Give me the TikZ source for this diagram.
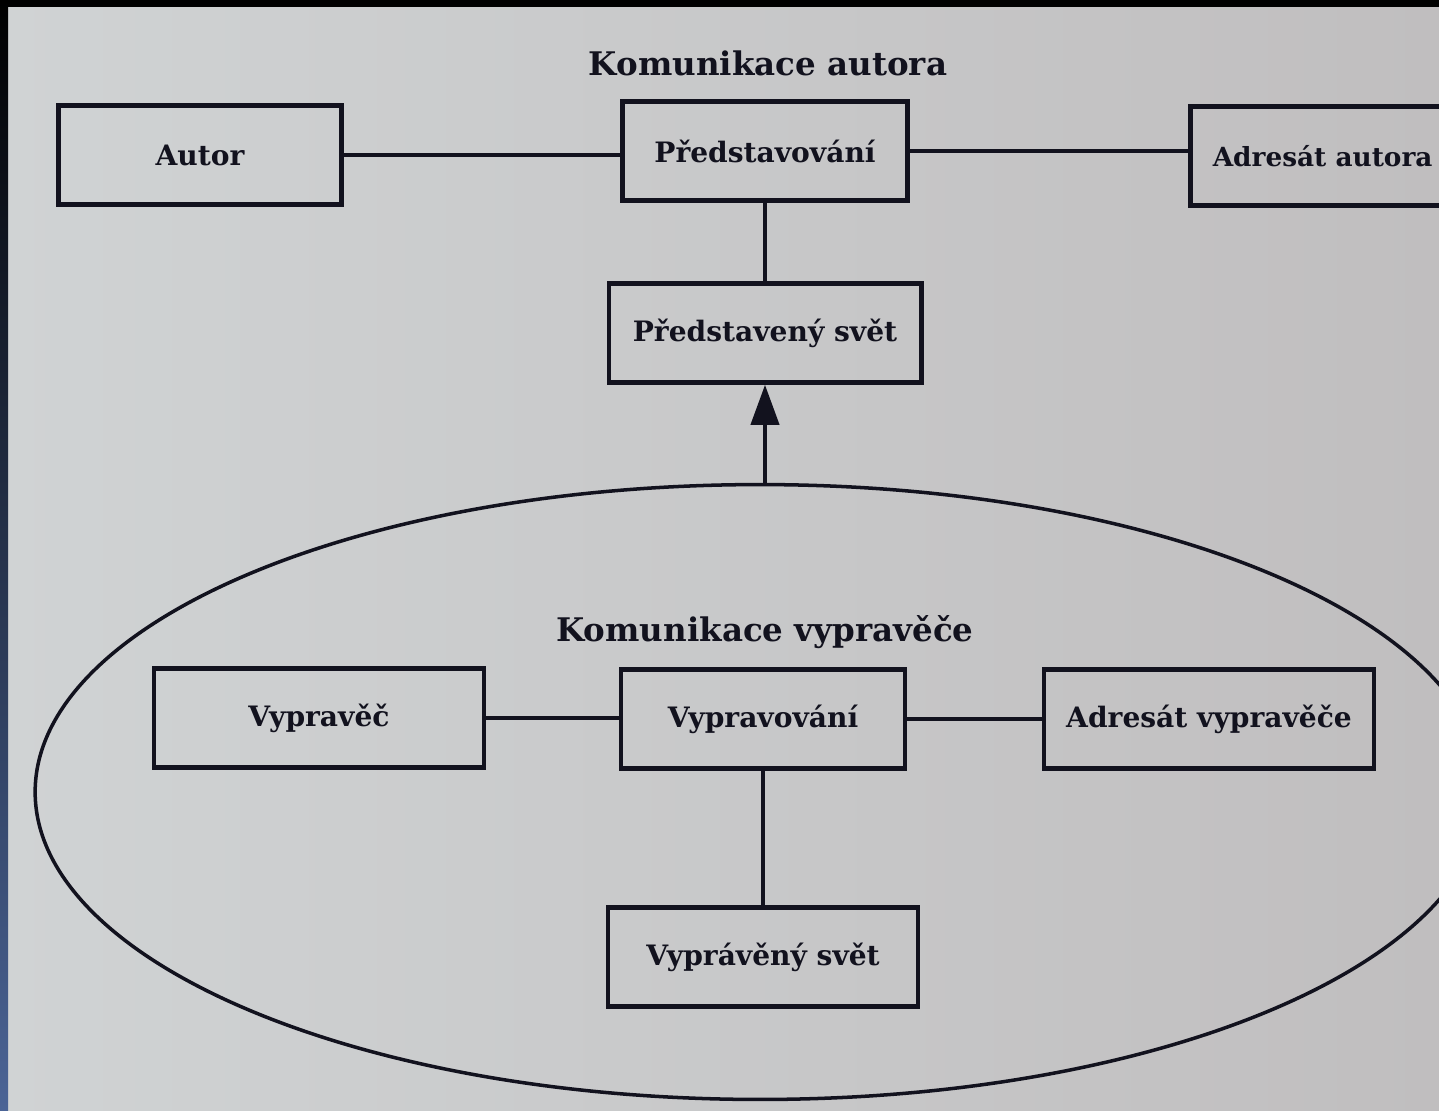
\documentclass[tikz,border=0pt]{standalone}
\usepackage{fontspec}
\setmainfont{DejaVu Serif}
\usetikzlibrary{arrows.meta,shapes.geometric}
\definecolor{paperA}{RGB}{208,211,212}
\definecolor{paperB}{RGB}{192,190,191}
\definecolor{ink}{RGB}{18,18,30}
\begin{document}
\begin{tikzpicture}[x=0.02cm,y=-0.02cm,
  box/.style = {rectangle,draw=ink,line width=2.6pt,inner sep=0pt,minimum height=1.98cm,
                text=ink,font=\bfseries\fontsize{16}{18}\selectfont},
  title/.style = {text=ink,font=\bfseries\fontsize{18.5}{21}\selectfont},
  link/.style = {draw=ink,line width=2.3pt}]
\useasboundingbox (0,0) rectangle (1439,1110);
% paper and photo edges
\fill[left color=paperA,right color=paperB] (0,0) rectangle (1439,1110);
\fill[black] (0,0) rectangle (1439,7);
\fill[top color=black,bottom color={rgb,255:red,75;green,100;blue,150}] (0,0) rectangle (8,1110);
\begin{scope}
\clip (8,7) rectangle (1439,1110);
% author level
\node[title] (tA) at (768,63) {Komunikace autora};
\node[box,minimum width=5.65cm] (autor) at (200,155) {Autor};
\node[box,minimum width=5.7cm] (predst) at (765,151) {Představování};
\node[box,anchor=west] (adrA) at (1188,156)
  {\kern0.45cm{\fontsize{15}{18}\selectfont Adresát autora}\kern1.3cm};
\node[box,minimum width=6.25cm] (pworld) at (765,333) {Představený svět};
% narrator level
\node[ellipse,draw=ink,line width=2pt,minimum width=29cm,minimum height=12.3cm,inner sep=0pt] (vkom) at (760,792) {};
\node[title] (tV) at (765,632) {Komunikace vypravěče};
\node[box,minimum width=6.6cm] (vypravec) at (319,718) {Vypravěč};
\node[box,minimum width=5.68cm] (vypravovani) at (763,719) {Vypravování};
\node[box,minimum width=6.6cm] (adrV) at (1209,719) {Adresát vypravěče};
\node[box,minimum width=6.2cm] (vworld) at (763,957) {Vyprávěný svět};
% links
\path[link] (autor.east) -- (autor.east -| predst.west);
\path[link] (predst.east) -- (predst.east -| adrA.west);
\path[link] (predst) -- (pworld);
\path[link] (vypravec.east) -- (vypravec.east -| vypravovani.west);
\path[link] (vypravovani.east) -- (vypravovani.east -| adrV.west);
\path[link] (vypravovani) -- (vworld);
\draw[link,-{Triangle[length=0.8cm,width=0.56cm]}] (pworld.south |- vkom.north) -- (pworld.south);
\end{scope}
\end{tikzpicture}
\end{document}
